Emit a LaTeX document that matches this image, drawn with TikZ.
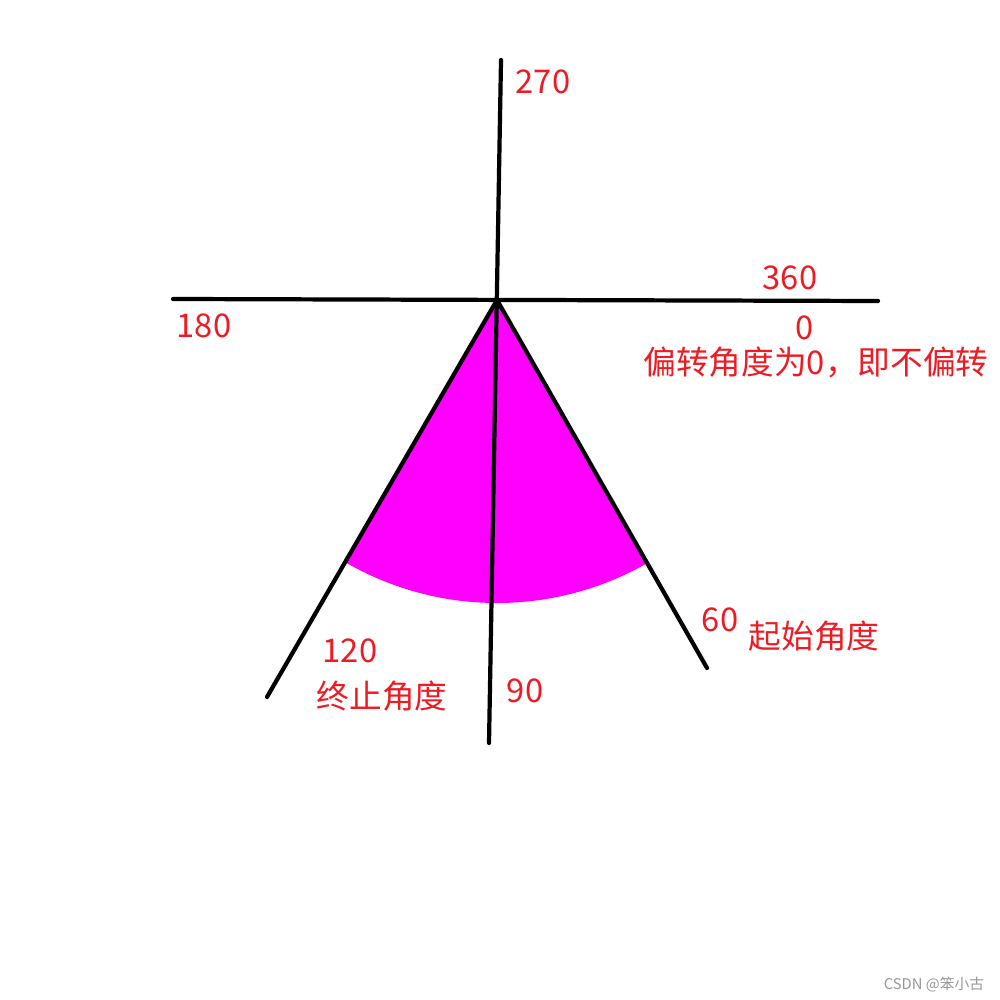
\documentclass[tikz,border=0pt]{standalone}
\usepackage{fontspec}
\setmainfont{Noto Sans CJK SC}
\usetikzlibrary{positioning}
\definecolor{paint_red}{HTML}{ED1C24}
\definecolor{paint_magenta}{HTML}{FF00FF}
\definecolor{mark_gray}{HTML}{969696}
\tikzset{
  axis/.style={draw=black, line width=1.2pt, line cap=round},
  sector/.style={fill=paint_magenta, draw=none},
  anglabel/.style={text=paint_red, inner sep=0pt, font=\fontsize{9.3}{11}\selectfont},
  watermark/.style={text=mark_gray, inner sep=0pt, font=\fontsize{4.2}{5}\selectfont},
}
\newcommand{\rsec}{3.03}

\begin{document}
\begin{tikzpicture}
  \useasboundingbox (0,0) rectangle (10,-10);

  % --- axes end points ------------------------------------------------------
  \coordinate (origin) at (4.97,-3.00);
  \coordinate (top)    at (5.01,-0.60);
  \coordinate (bottom) at (4.89,-7.43);
  \coordinate (left)   at (1.73,-2.99);
  \coordinate (right)  at (8.78,-3.01);
  \coordinate (ray60)  at (7.07,-6.68);
  \coordinate (ray120) at (2.67,-6.97);

  % --- swept sector ---------------------------------------------------------
  \fill[sector] (origin) -- ++(-60:\rsec)
    arc[start angle=-60, end angle=-120, radius=\rsec] -- cycle;

  % --- axes and rays --------------------------------------------------------
  \draw[axis] (top) -- (bottom);
  \draw[axis] (left) -- (right);
  \draw[axis] (origin) -- (ray60);
  \draw[axis] (origin) -- (ray120);

  % --- angle labels ---------------------------------------------------------
  \node[anglabel] (lab270) at (5.43,-0.82) {270};
  \node[anglabel] (lab360) at (7.90,-2.78) {360};
  \node[anglabel] (lab0)   at (8.05,-3.28) {0};
  \node[anglabel] (note0)  at (8.16,-3.62) {偏转角度为0，即不偏转};
  \node[anglabel] (lab180) at (2.04,-3.26) {180};
  \node[anglabel] (lab60)  at (7.20,-6.20) {60};
  \node[anglabel] (start)  at (8.14,-6.36) {起始角度};
  \node[anglabel] (lab120) at (3.50,-6.51) {120};
  \node[anglabel] (stop)   at (3.82,-6.96) {终止角度};
  \node[anglabel] (lab90)  at (5.25,-6.91) {90};

  \node[watermark] (mark) at (9.34,-9.85) {CSDN @笨小古};

\end{tikzpicture}
\end{document}
